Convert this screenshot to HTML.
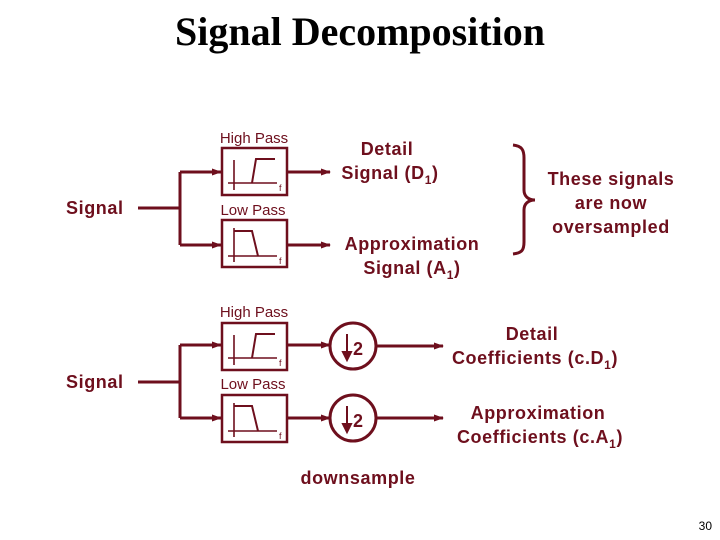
<!DOCTYPE html>
<html><head><meta charset="utf-8"><style>
html,body{margin:0;padding:0;background:#fff;}
svg{display:block;}
.t{font-family:"Liberation Sans",Arial,sans-serif;font-weight:bold;fill:#6e0f1d;letter-spacing:0.6px;}
.s{font-family:"Liberation Sans",Arial,sans-serif;fill:#6e0f1d;}
</style></head><body>
<svg width="720" height="540" viewBox="0 0 720 540" xmlns="http://www.w3.org/2000/svg">
<defs>
<marker id="a" markerWidth="10" markerHeight="10" refX="9" refY="5" orient="auto" markerUnits="userSpaceOnUse">
<path d="M0,1.5 L10,5 L0,8.5 Z" fill="#6e0f1d"/></marker>
<g id="hp">
<rect x="0" y="0" width="65" height="47" fill="none" stroke="#6e0f1d" stroke-width="2.5"/>
<path d="M12,12 V42 M6,35 H55" stroke="#6e0f1d" stroke-width="1.6" fill="none"/>
<path d="M30,35 L34,11 H53" stroke="#6e0f1d" stroke-width="2" fill="none"/>
<text x="57" y="43" class="s" font-size="9">f</text>
</g>
<g id="lp">
<rect x="0" y="0" width="65" height="47" fill="none" stroke="#6e0f1d" stroke-width="2.5"/>
<path d="M12,8 V42 M6,36 H55" stroke="#6e0f1d" stroke-width="1.6" fill="none"/>
<path d="M12,11 H30 L36,36" stroke="#6e0f1d" stroke-width="2" fill="none"/>
<text x="57" y="44" class="s" font-size="9">f</text>
</g>
</defs>
<text x="360" y="45" text-anchor="middle" font-family="'Liberation Serif',serif" font-weight="bold" font-size="40" fill="#000">Signal Decomposition</text>

<g stroke="#6e0f1d" stroke-width="3" fill="none">
<path d="M138,208 H180 M180,172 V245"/>
<path d="M180,172 H221" marker-end="url(#a)"/>
<path d="M180,245 H221" marker-end="url(#a)"/>
<path d="M288,172 H330" marker-end="url(#a)"/>
<path d="M288,245 H330" marker-end="url(#a)"/>
<path d="M513,145 C522,146 524,150 524,158 V190 C524,196 528,200 535,200 C528,200 524,204 524,210 V242 C524,250 522,253 513,254"/>
<path d="M138,382 H180 M180,345 V418"/>
<path d="M180,345 H221" marker-end="url(#a)"/>
<path d="M180,418 H221" marker-end="url(#a)"/>
<path d="M288,345 H330" marker-end="url(#a)"/>
<path d="M288,418 H330" marker-end="url(#a)"/>
<circle cx="353" cy="346" r="23"/>
<circle cx="353" cy="418" r="23"/>
<path d="M376,346 H443" marker-end="url(#a)"/>
<path d="M376,418 H443" marker-end="url(#a)"/>
</g>
<g stroke="#6e0f1d" stroke-width="2" fill="#6e0f1d">
<path d="M347,334 V356" fill="none"/><path d="M343,352 L347,360 L351,352 Z"/>
<path d="M347,406 V428" fill="none"/><path d="M343,424 L347,432 L351,424 Z"/>
</g>
<text x="353" y="355" class="t" font-size="18">2</text>
<text x="353" y="427" class="t" font-size="18">2</text>

<use href="#hp" x="222" y="148"/>
<use href="#lp" x="222" y="220"/>
<use href="#hp" x="222" y="323"/>
<use href="#lp" x="222" y="395"/>

<g class="s" font-size="15">
<text x="254" y="143" text-anchor="middle">High Pass</text>
<text x="253" y="215" text-anchor="middle">Low Pass</text>
<text x="254" y="317" text-anchor="middle">High Pass</text>
<text x="253" y="389" text-anchor="middle">Low Pass</text>
</g>

<g class="t" font-size="18">
<text x="66" y="214">Signal</text>
<text x="66" y="388">Signal</text>
<text x="387" y="155" text-anchor="middle">Detail</text>
<text x="390" y="179" text-anchor="middle">Signal (D<tspan font-size="12" dy="5">1</tspan><tspan dy="-5">)</tspan></text>
<text x="412" y="250" text-anchor="middle">Approximation</text>
<text x="412" y="274" text-anchor="middle">Signal (A<tspan font-size="12" dy="5">1</tspan><tspan dy="-5">)</tspan></text>
<text x="611" y="185" text-anchor="middle">These signals</text>
<text x="611" y="209" text-anchor="middle">are now</text>
<text x="611" y="233" text-anchor="middle">oversampled</text>
<text x="532" y="340" text-anchor="middle">Detail</text>
<text x="535" y="364" text-anchor="middle">Coefficients (c.D<tspan font-size="12" dy="5">1</tspan><tspan dy="-5">)</tspan></text>
<text x="538" y="419" text-anchor="middle">Approximation</text>
<text x="540" y="443" text-anchor="middle">Coefficients (c.A<tspan font-size="12" dy="5">1</tspan><tspan dy="-5">)</tspan></text>
<text x="358" y="484" text-anchor="middle">downsample</text>
</g>
<text x="712" y="530" text-anchor="end" font-family="'Liberation Sans',sans-serif" font-size="12" fill="#000">30</text>
</svg>
</body></html>
